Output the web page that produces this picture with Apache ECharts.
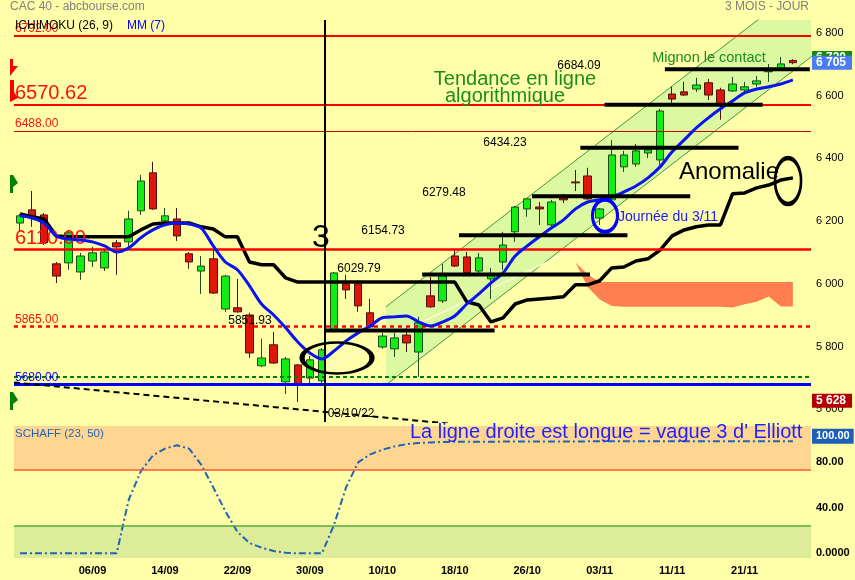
<!DOCTYPE html>
<html><head><meta charset="utf-8">
<script src="https://cdn.jsdelivr.net/npm/echarts@6/dist/echarts.min.js"></script>
<style>html,body{margin:0;padding:0;background:#ffffaa;}#c{width:855px;height:580px;}</style>
</head><body><div id="c"></div>
<script>
// ---------- DATA ----------
const dates = ['29/08','30/08','31/08','01/09','02/09','05/09','06/09','07/09','08/09','09/09','12/09','13/09','14/09','15/09','16/09','19/09','20/09','21/09','22/09','23/09','26/09','27/09','28/09','29/09','30/09','03/10','04/10','05/10','06/10','07/10','10/10','11/10','12/10','13/10','14/10','17/10','18/10','19/10','20/10','21/10','24/10','25/10','26/10','27/10','28/10','31/10','01/11','02/11','03/11','04/11','07/11','08/11','09/11','10/11','11/11','14/11','15/11','16/11','17/11','18/11','21/11','22/11','23/11','24/11','25/11','28/11'];
// [open, close, low, high]
const ohlc = [
[6194,6217,6166,6223],[6236,6217,6182,6296],[6220,6131,6124,6226],[6064,6025,6003,6070],[6067,6163,6045,6172],
[6038,6089,6013,6099],[6073,6099,6054,6118],[6051,6102,6041,6108],[6131,6118,6029,6140],[6134,6207,6118,6233],
[6233,6328,6220,6347],[6354,6239,6236,6389],[6201,6217,6191,6242],[6207,6153,6137,6242],[6096,6070,6048,6102],
[6041,6057,5968,6089],[6080,5971,5968,6108],[5920,6025,5911,6029],[5924,5911,5908,6016],[5901,5780,5764,5908],
[5739,5764,5735,5825],[5806,5748,5745,5847],[5688,5761,5649,5767],[5742,5678,5624,5745],[5700,5758,5684,5770],
[5691,5790,5678,5796],[5853,6035,5850,6038],[6000,5981,5952,6029],[6000,5930,5911,6013],[5908,5863,5860,5952],
[5799,5834,5793,5844],[5793,5828,5767,5844],[5837,5812,5783,5866],[5783,5876,5704,5895],[5962,5927,5924,6022],
[5946,6025,5939,6064],[6089,6057,6054,6108],[6086,6035,6032,6102],[6041,6083,6032,6099],[6016,6029,5952,6051],
[6070,6124,6045,6166],[6166,6245,6134,6249],[6239,6271,6214,6274],[6245,6239,6188,6261],[6188,6261,6182,6268],
[6274,6268,6258,6287],[6325,6322,6296,6363],[6344,6271,6268,6370],[6210,6239,6188,6242],[6268,6411,6265,6459],
[6373,6411,6357,6424],[6382,6424,6373,6446],[6417,6427,6401,6437],[6395,6551,6379,6558],[6605,6589,6577,6628],
[6612,6602,6599,6644],[6621,6634,6612,6657],[6641,6602,6586,6653],[6618,6574,6523,6625],[6615,6637,6612,6660],
[6618,6628,6612,6644],[6637,6647,6628,6663],[6676,6679,6644,6701],[6685,6701,6682,6723],[6712,6705,6700,6716]];
const mm7 = [6217,6210,6194,6153,6143,6140,6134,6121,6102,6115,6147,6172,6188,6194,6191,6178,6121,6070,6045,5994,5936,5901,5860,5815,5780,5761,5786,5818,5844,5866,5892,5895,5898,5879,5866,5879,5898,5936,5968,6003,6035,6089,6121,6150,6178,6204,6239,6261,6268,6277,6293,6312,6338,6373,6421,6459,6497,6529,6558,6583,6609,6621,6628,6637,6650];
const kijun = [6223,6214,6207,6153,6150,6150,6150,6150,6150,6150,6172,6191,6194,6194,6194,6182,6175,6150,6150,6070,6061,6061,6019,6006,6006,6006,6006,6006,6006,6006,6006,6006,6006,6006,6006,6006,6006,5943,5933,5879,5892,5936,5949,5952,5955,5959,5997,5997,6010,6051,6054,6073,6080,6108,6153,6172,6182,6188,6188,6287,6290,6306,6315,6331,6338];
const N0 = 46;
const cloudTop    = [6068,6030,6006,6006,6006,6006,6006,6006,6006,6006,6006,6006,6006,6006,6006,6006,6006,6006,6006];
const cloudBottom = [6068,5990,5950,5930,5927,5927,5927,5927,5927,5927,5927,5927,5927,5925,5935,5943,5960,5928,5928];
const schaff = [0,0,0,0,0,0,0,0,0,47,72,86,92,95,92,78,58,37,19,9,5,2,0.5,0,0,0,25,58,80,87,91,94,96,97,97.5,97.8,98,98,98.1,98.1,98.2,98.2,98.2,98.3,98.3,98.3,98.3,98.4,98.4,98.4,98.4,98.4,98.5,98.5,98.5,98.5,98.5,98.5,98.5,98.5,98.5,98.5,98.5,98.5,98.5];
const mainTicks = [5600,5800,6000,6200,6400,6600,6800];
const schaffTicks = [0,40,80];
const refLineValues = [6792, 6570.62, 6488, 6110, 5865, 5705, 5680];
const refLineLabels = ['6792.00','6570.62','6488.00','6110.00','5865.00','','5680.00'];
const tagValues = [6720, 6705, 5628];
const levelValues = [6029.79, 5851.93, 6154.73, 6279.48, 6434.23, 6570.62, 6684.09];
const levelFrom   = [33.3, 25.25, 36.35, 42.4, 46.4, 48.4, 53.4];
const levelTo     = [47.2, 39.3, 50.3, 55.5, 59.5, 61.5, 65.4];
const channelLower = [[30.3,5678],[66,6738]];
const channelUpper = [[30.3,5927],[66,6987]];
const trendLine = [[-0.5,5686],[36,5553]];
const paleLine = [[22.1,5672],[48.0,6150]];
const markerDay = 25.25;
const ellipses = [[26.25,5764],[48.44,6217],[63.6,6328]];
const annotTexts = ['3','6029.79','5851.93','6154.73','6279.48','6434.23','6684.09','Tendance en ligne','algorithmique','Mignon le contact','Anomalie','Journée du 3/11','03/10/22'];
const annotPos = [[24.92,6147],[28.07,6048],[19.04,5882],[30.06,6169],[35.1,6290],[40.16,6449],[46.29,6695],[40.99,6650],[40.16,6596],[57.05,6720],[58.71,6354],[53.66,6214],[27.41,5586]];

// ---------- STYLES ----------
const FONT = 'Liberation Sans, Arial, sans-serif';
const refStyles = [
  {c:'#ff0000', w:2, t:'solid', fs:12},
  {c:'#ff0000', w:2, t:'solid', fs:20},
  {c:'#cc0000', w:1, t:'solid', fs:12},
  {c:'#ff0000', w:2.5, t:'solid', fs:20},
  {c:'#ff0000', w:2.5, t:[4,4], fs:12},
  {c:'#008000', w:2, t:[4,3], fs:12},
  {c:'#0000ff', w:3, t:'solid', fs:12}
];
const tagStyles = [{bg:'#148a14'},{bg:'#4a7df5'},{bg:'#b40000'}];
const ellStyles = [{w:70,h:31,c:'#000'},{w:25,h:32,c:'#0000ff'},{w:26,h:46,c:'#000'}];
const annotStyles = [
  {fs:32,c:'#000'},{fs:12,c:'#000'},{fs:12,c:'#000'},{fs:12,c:'#000'},{fs:12,c:'#000'},{fs:12,c:'#000'},{fs:12,c:'#000'},
  {fs:20,c:'#1e8b1e'},{fs:20,c:'#1e8b1e'},{fs:14.5,c:'#1e8b1e'},{fs:24,c:'#000'},{fs:14,c:'#1a1aff'},{fs:12,c:'#000'}
];
const thousands = v => String(v).replace(/\B(?=(\d{3})+(?!\d))/g, ' ');
const CLEAR = 'rgba(0,0,0,0)';

const cloudBaseData = dates.map((d,i)=> (i>=N0 && i-N0<cloudBottom.length) ? cloudBottom[i-N0] : null);
const cloudDiffData = dates.map((d,i)=> (i>=N0 && i-N0<cloudTop.length) ? cloudTop[i-N0]-cloudBottom[i-N0] : null);

const series = [];
// channel fill
series.push({type:'custom', xAxisIndex:1, yAxisIndex:0, z:1, clip:true, silent:true,
  data:[channelLower[0]],
  encode:{x:0,y:1},
  renderItem:(params, api)=>{
    const pts=[channelLower[0],channelLower[1],channelUpper[1],channelUpper[0]].map(p=>api.coord(p));
    return {type:'polygon', shape:{points:pts}, style:{fill:'#dcf9a2'}};
  }});
// cloud
series.push({type:'line', xAxisIndex:0, yAxisIndex:0, z:1, stack:'cloud', data:cloudBaseData, symbol:'none', lineStyle:{opacity:0}, silent:true});
series.push({type:'line', xAxisIndex:0, yAxisIndex:0, z:1, stack:'cloud', data:cloudDiffData, symbol:'none', lineStyle:{opacity:0}, areaStyle:{color:'#ff7f50', opacity:1}, silent:true});
// channel borders
[channelLower, channelUpper].forEach(d=>series.push({type:'line', xAxisIndex:1, yAxisIndex:0, z:2, data:d, symbol:'none', lineStyle:{color:'#3c9a3c', width:1}, silent:true}));
// pale line
series.push({type:'line', xAxisIndex:1, yAxisIndex:0, z:2, data:paleLine, symbol:'none', lineStyle:{color:'#fff7d2', width:1.5}, silent:true});
// candles
series.push({type:'candlestick', xAxisIndex:0, yAxisIndex:0, z:3, data:ohlc, barWidth:8,
  itemStyle:{color:'#11ee11', color0:'#e0160a', borderColor:'#1d4d1d', borderColor0:'#4d1212', borderWidth:1}});
// kijun
series.push({type:'line', xAxisIndex:0, yAxisIndex:0, z:4, data:kijun, symbol:'none', lineStyle:{color:'#000', width:3.5}, silent:true});
// MM7
series.push({type:'line', xAxisIndex:0, yAxisIndex:0, z:5, data:mm7, symbol:'none', smooth:0.3, lineStyle:{color:'#0a14f0', width:3}, silent:true});
// reference lines
const refMark = refLineValues.map((v,i)=>({yAxis:v,
  lineStyle:{color:refStyles[i].c, width:refStyles[i].w, type:refStyles[i].t},
  label:{show:!!refLineLabels[i], formatter:refLineLabels[i], position:'insideStartTop', distance:[1,1],
    color: i===6 ? '#0000ff' : '#ff1010', fontSize:refStyles[i].fs, fontFamily:FONT}}));
series.push({type:'line', xAxisIndex:1, yAxisIndex:0, z:6, data:[], silent:true,
  markLine:{symbol:['none','none'], silent:true, animation:false, data:refMark}});
// price tags on the right axis
series.push({type:'line', xAxisIndex:1, yAxisIndex:0, z:20, data:[], silent:true,
  markLine:{symbol:['none','none'], silent:true, animation:false,
    data:tagValues.map((v,i)=>({yAxis:v, lineStyle:{color:CLEAR, width:1, type:'solid'},
      label:{show:true, position:'end', distance:1, formatter:thousands(v), color:'#fff', backgroundColor:tagStyles[i].bg,
        fontSize:12, fontWeight:'bold', fontFamily:FONT, padding:[1,6,1,4]}}))}});
// level segments
levelValues.forEach((v,i)=>series.push({type:'line', xAxisIndex:1, yAxisIndex:0, z:6, symbol:'none', silent:true,
  data:[[levelFrom[i],v],[levelTo[i],v]], lineStyle:{color:'#000', width:4}}));
// trend dashed line + vertical marker
series.push({type:'line', xAxisIndex:1, yAxisIndex:0, z:6, symbol:'none', silent:true, data:trendLine,
  lineStyle:{color:'#000', width:2, type:[6,4]},
  markLine:{symbol:['none','none'], silent:true, animation:false, label:{show:false},
    data:[{xAxis:markerDay, lineStyle:{color:'#000', width:2, type:'solid'}}]}});
// ellipses
series.push({type:'scatter', xAxisIndex:1, yAxisIndex:0, z:8, silent:true,
  data:ellipses.map((p,i)=>({value:p, symbol:'circle', symbolSize:[ellStyles[i].w, ellStyles[i].h],
    itemStyle:{color:CLEAR, borderColor:ellStyles[i].c, borderWidth:3.5, opacity:1}}))});
// annotations
series.push({type:'scatter', xAxisIndex:1, yAxisIndex:0, z:9, silent:true, clip:false,
  data:annotPos.map((p,i)=>({value:p, symbolSize:1, itemStyle:{color:CLEAR, opacity:1},
    label:{show:true, position:'inside', formatter:annotTexts[i], color:annotStyles[i].c, opacity:1, fontSize:annotStyles[i].fs, fontFamily:FONT}}))});
// schaff
series.push({type:'line', xAxisIndex:2, yAxisIndex:1, z:3, data:schaff, symbol:'none', silent:true,
  lineStyle:{color:'#1e64b4', width:2, type:[7,3,2,3]},
  markArea:{silent:true, data:[
    [{yAxis:73.5, itemStyle:{color:'#ffd691'}},{yAxis:111.9}],
    [{yAxis:-4.1, itemStyle:{color:'#dcec98'}},{yAxis:24}]]},
  markLine:{symbol:['none','none'], silent:true, animation:false, data:[
    {yAxis:73.5, lineStyle:{color:'#ff5530', width:1.5, type:'solid'}, label:{show:false}},
    {yAxis:24, lineStyle:{color:'#5aaa3c', width:1.5, type:'solid'}, label:{show:false}},
    {yAxis:103, lineStyle:{color:CLEAR, width:1, type:'solid'}, label:{show:true, position:'end', distance:1, formatter:'100.00', color:'#fff',
      backgroundColor:'#1d5fb8', fontSize:11, fontWeight:'bold', fontFamily:FONT, padding:[2,4,2,4]}}]}});

const option = {
  animation:false,
  backgroundColor:'#ffffaa',
  textStyle:{fontFamily:FONT},
  grid:[{left:14, top:20, width:797, height:402}, {left:14, top:426, width:797, height:132}],
  xAxis:[
    {type:'category', gridIndex:0, data:dates, show:false},
    {type:'value', gridIndex:0, min:-0.5, max:65.5, show:false},
    {type:'category', gridIndex:1, data:dates, axisLine:{show:false}, axisTick:{show:false},
      axisLabel:{interval:(i)=> i>0 && i%6===0 && i<=60, color:'#000', fontSize:11, fontWeight:'bold', margin:7}}
  ],
  yAxis:[
    {type:'value', gridIndex:0, position:'right', min:5560, max:6841, splitLine:{show:false}, axisLine:{show:false}, axisTick:{show:false},
      axisLabel:{customValues:mainTicks, formatter:v=>thousands(v), color:'#000', fontSize:11, margin:5}},
    {type:'value', gridIndex:1, position:'right', min:-4.1, max:111.9, splitLine:{show:false}, axisLine:{show:false}, axisTick:{show:false},
      axisLabel:{customValues:schaffTicks, formatter:v=> v===0 ? '0.0000' : v.toFixed(2), color:'#000', fontSize:11, fontWeight:'bold', margin:5}}
  ],
  graphic:[
    {type:'text', left:10, top:1, style:{text:'CAC 40 - abcbourse.com', fill:'#808080', font:'12px '+FONT}},
    {type:'text', right:46, top:1, style:{text:'3 MOIS - JOUR', fill:'#808080', font:'12px '+FONT}},
    {type:'text', left:15, top:20, z:100, style:{text:'ICHIMOKU (26, 9)', fill:'#000', font:'12px '+FONT}},
    {type:'text', left:127, top:20, z:100, style:{text:'MM (7)', fill:'#0000ff', font:'12px '+FONT}},
    {type:'text', left:15, top:428, z:100, style:{text:'SCHAFF (23, 50)', fill:'#1e64b4', font:'11.5px '+FONT}},
    {type:'text', left:410, top:422, z:100, style:{text:"La ligne droite est longue = vague 3 d' Elliott", fill:'#1f1fff', font:'20px '+FONT}},
    {type:'polygon', z:100, shape:{points:[[10,59],[13,59],[13,66],[18,66],[10,76]]}, style:{fill:'#ff0000'}},
    {type:'polygon', z:100, shape:{points:[[10,80],[14,80],[14,92],[18,98],[10,102]]}, style:{fill:'#ff0000'}},
    {type:'polygon', z:100, shape:{points:[[10,175],[13,175],[18,183],[13,187],[13,193],[10,193]]}, style:{fill:'#008000'}},
    {type:'polygon', z:100, shape:{points:[[10,392],[13,392],[18,400],[13,404],[13,410],[10,410]]}, style:{fill:'#008000'}}
  ],
  series
};
const chart = echarts.init(document.getElementById('c'), null, {width:855, height:580});
chart.setOption(option);
</script></body></html>
